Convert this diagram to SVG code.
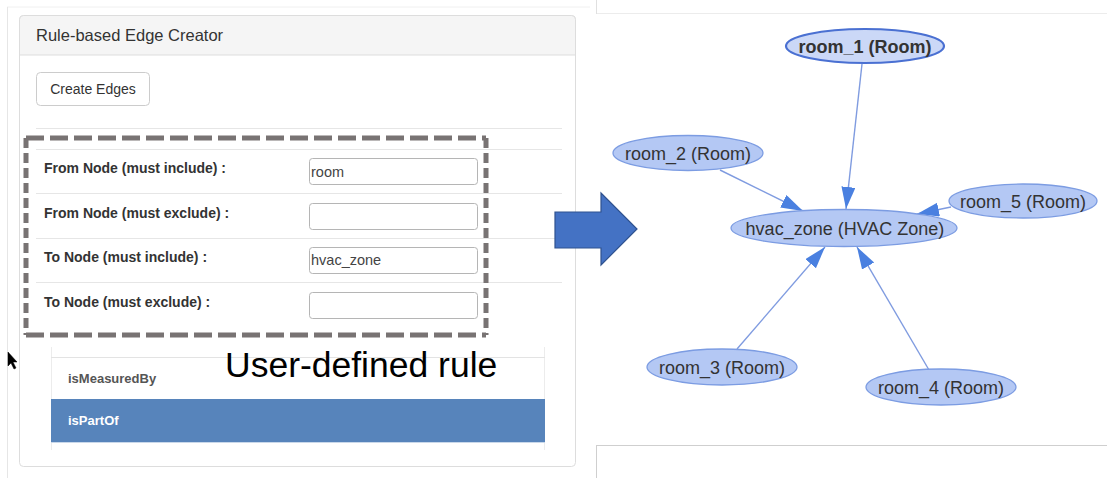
<svg xmlns="http://www.w3.org/2000/svg" width="1107" height="478" viewBox="0 0 1107 478">
<style>
  .t{font-family:"Liberation Sans",Arial,Helvetica,sans-serif;}
  .lbl{font-family:"Liberation Sans",Arial,sans-serif;font-weight:bold;font-size:14px;fill:#333;}
  .inp{fill:#fff;stroke:#b5b5b5;stroke-width:1;}
  .inptxt{font-family:"Liberation Sans",Arial,sans-serif;font-size:14.5px;fill:#444;}
  .sep{stroke:#e6e6e6;stroke-width:1;}
  .node{fill:#b4c8f4;stroke:#7c9ce2;stroke-width:1.3;}
  .ntxt{font-family:"Liberation Sans",Arial,sans-serif;font-size:18px;fill:#333;text-anchor:middle;}
  .edge{stroke:#7f9be0;stroke-width:1.4;fill:none;marker-end:url(#ah);}
  .dash{stroke:#787373;stroke-width:5;fill:none;}
</style>
<defs>
  <marker id="ah" markerUnits="userSpaceOnUse" markerWidth="24" markerHeight="16" refX="22" refY="7" orient="auto">
    <path d="M0,0 L22,7 L0,14 Z" fill="#4a80e0"/>
  </marker>
</defs>
<rect width="1107" height="478" fill="#ffffff"/>

<g id="frame">
  <line x1="7" y1="7" x2="590" y2="7" stroke="#f0f0f0" stroke-width="1"/>
  <line x1="7.5" y1="7" x2="7.5" y2="478" stroke="#e6e6e6" stroke-width="1"/>
  <line x1="597" y1="13.5" x2="1107" y2="13.5" stroke="#ececec" stroke-width="1"/>
  <line x1="596.5" y1="0" x2="596.5" y2="14" stroke="#e0e0e0" stroke-width="1"/>
  <line x1="596" y1="445.5" x2="1107" y2="445.5" stroke="#cfcfcf" stroke-width="1"/>
  <line x1="596.5" y1="445" x2="596.5" y2="478" stroke="#cfcfcf" stroke-width="1"/>
</g>

<g id="panel">
  <rect x="19.5" y="15.5" width="556" height="451" rx="4" fill="#fff" stroke="#dddddd"/>
  <path d="M19.5,55 V19.5 a4,4 0 0 1 4,-4 H571.5 a4,4 0 0 1 4,4 V55 Z" fill="#f5f5f5" stroke="#dddddd"/>
  <text class="t" x="36" y="41" font-size="16.5" fill="#333">Rule-based Edge Creator</text>
</g>

<g id="btn-create">
  <rect x="36.5" y="72.5" width="113" height="33" rx="4" fill="#fff" stroke="#cccccc"/>
  <text class="t" x="93" y="94" font-size="14" fill="#333" text-anchor="middle">Create Edges</text>
</g>

<g id="form">
  <line class="sep" x1="36" y1="128.5" x2="562" y2="128.5"/>
  <line class="sep" x1="36" y1="149.5" x2="562" y2="149.5"/>
  <line class="sep" x1="36" y1="193.5" x2="562" y2="193.5"/>
  <line class="sep" x1="36" y1="238.5" x2="562" y2="238.5"/>
  <line class="sep" x1="36" y1="282.5" x2="562" y2="282.5"/>
  <text class="lbl" x="44" y="173">From Node (must include) :</text>
  <text class="lbl" x="44" y="218">From Node (must exclude) :</text>
  <text class="lbl" x="44" y="262">To Node (must include) :</text>
  <text class="lbl" x="44" y="307">To Node (must exclude) :</text>
  <rect class="inp" x="309.5" y="158.5" width="168" height="26" rx="3"/>
  <rect class="inp" x="309.5" y="203.5" width="168" height="26" rx="3"/>
  <rect class="inp" x="309.5" y="247.5" width="168" height="26" rx="3"/>
  <rect class="inp" x="309.5" y="292.5" width="168" height="26" rx="3"/>
  <text class="inptxt" x="311" y="177">room</text>
  <text class="inptxt" x="311" y="265">hvac_zone</text>
</g>

<g id="rule-box">
  <line class="dash" x1="26" y1="138" x2="486" y2="138" stroke-dasharray="18 6"/>
  <line class="dash" x1="26" y1="335" x2="486" y2="335" stroke-dasharray="18 6"/>
  <line class="dash" x1="26" y1="138" x2="26" y2="335" stroke-dasharray="10 5"/>
  <line class="dash" x1="486" y1="138" x2="486" y2="335" stroke-dasharray="10 5"/>
</g>

<g id="table">
  <line x1="51.5" y1="347" x2="51.5" y2="450" stroke="#ececec"/>
  <line x1="544.5" y1="347" x2="544.5" y2="450" stroke="#ececec"/>
  <line x1="51" y1="357.5" x2="545" y2="357.5" stroke="#e3e3e3"/>
  <text class="t" x="68" y="383" font-size="13" font-weight="bold" fill="#555">isMeasuredBy</text>
  <rect x="51" y="399" width="494" height="43" fill="#5784bb"/>
  <line x1="51" y1="442.5" x2="545" y2="442.5" stroke="#c9d8ea"/>
  <text class="t" x="68" y="425" font-size="13" font-weight="bold" fill="#ffffff">isPartOf</text>
</g>

<g id="caption">
  <text class="t" x="225" y="377" font-size="35.5" fill="#000">User-defined rule</text>
</g>

<g id="cursor">
  <path d="M8,352 L8,366 L11,363 L14,369 L16,368 L13,362 L17,362 Z" fill="#000" stroke="#000" stroke-width="0.5"/>
</g>

<g id="big-arrow">
  <polygon points="555,212 601,212 601,193 637,229 601,265 601,248 555,248" fill="#4472c4" stroke="#2f528f" stroke-width="1.2"/>
</g>

<g id="connectors">
  <line class="edge" x1="862" y1="64" x2="846" y2="209"/>
  <line class="edge" x1="720" y1="170" x2="803" y2="211"/>
  <line class="edge" x1="951" y1="207" x2="917" y2="214"/>
  <line class="edge" x1="737" y1="349" x2="825" y2="247"/>
  <line class="edge" x1="929" y1="370" x2="857" y2="247"/>
</g>

<g id="node-room_1">
  <ellipse cx="865" cy="46" rx="79" ry="17" fill="#cbd8f7" stroke="#4a70d2" stroke-width="2.2"/>
  <text class="ntxt" x="865" y="52.5" font-weight="bold">room_1 (Room)</text>
</g>
<g id="node-room_2">
  <ellipse class="node" cx="688" cy="153" rx="75" ry="17.5"/>
  <text class="ntxt" x="688" y="159.5">room_2 (Room)</text>
</g>
<g id="node-room_5">
  <ellipse class="node" cx="1023" cy="201" rx="74" ry="17"/>
  <text class="ntxt" x="1023" y="207.5">room_5 (Room)</text>
</g>
<g id="node-hvac_zone">
  <ellipse class="node" cx="844" cy="228" rx="113" ry="18.5"/>
  <text class="ntxt" x="845" y="234.5">hvac_zone (HVAC Zone)</text>
</g>
<g id="node-room_3">
  <ellipse class="node" cx="722" cy="367" rx="75" ry="18"/>
  <text class="ntxt" x="722" y="373.5">room_3 (Room)</text>
</g>
<g id="node-room_4">
  <ellipse class="node" cx="941" cy="387" rx="75" ry="18"/>
  <text class="ntxt" x="941" y="393.5">room_4 (Room)</text>
</g>
</svg>
